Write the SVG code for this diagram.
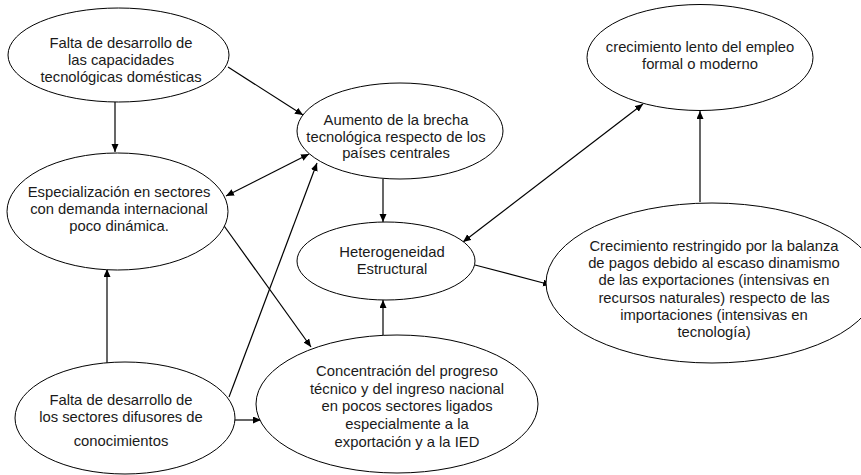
<svg xmlns="http://www.w3.org/2000/svg" width="861" height="475" viewBox="0 0 861 475">
<style>
.n ellipse{fill:#fff;stroke:#000;stroke-width:1}
.n text{font-family:"Liberation Sans",Arial,sans-serif;font-size:14.8px;fill:#1a1a1a;text-anchor:middle}
.c line{stroke:#000;stroke-width:1.2;fill:none}
</style>
<defs>
<marker id="ah" markerUnits="userSpaceOnUse" markerWidth="9" markerHeight="8" refX="8" refY="3.5" orient="auto-start-reverse" viewBox="0 0 9 8">
<path d="M0,0 L8,3.5 L0,7 z" fill="#000"/>
</marker>
</defs>
<rect width="861" height="475" fill="#fff"/>
<g class="c" id="connectors">
<line x1="115" y1="102" x2="115" y2="152" marker-end="url(#ah)"/>
<line x1="228" y1="67" x2="303" y2="115" marker-end="url(#ah)"/>
<line x1="226" y1="196" x2="309" y2="154" marker-start="url(#ah)" marker-end="url(#ah)"/>
<line x1="229" y1="397" x2="317" y2="163" marker-end="url(#ah)"/>
<line x1="222" y1="223" x2="311" y2="347" marker-end="url(#ah)"/>
<line x1="235" y1="420" x2="261" y2="420" marker-end="url(#ah)"/>
<line x1="383" y1="179" x2="383" y2="222" marker-end="url(#ah)"/>
<line x1="383" y1="335" x2="383" y2="300" marker-end="url(#ah)"/>
<line x1="463" y1="242" x2="643" y2="104" marker-start="url(#ah)" marker-end="url(#ah)"/>
<line x1="475" y1="265" x2="551" y2="285" marker-end="url(#ah)"/>
<line x1="700" y1="202" x2="700" y2="111" marker-end="url(#ah)"/>
<line x1="107" y1="363" x2="107" y2="269" marker-end="url(#ah)"/>
</g>
<g class="n" id="n1">
<ellipse cx="118.5" cy="55" rx="110.5" ry="47"/>
<text x="121" y="48">Falta de desarrollo de</text>
<text x="121" y="65">las capacidades</text>
<text x="121" y="82">tecnológicas domésticas</text>
</g>
<g class="n" id="n2">
<ellipse cx="400" cy="131" rx="103" ry="48"/>
<text x="396" y="125">Aumento de la brecha</text>
<text x="396" y="141.7">tecnológica respecto de los</text>
<text x="396" y="158">países centrales</text>
</g>
<g class="n" id="n3">
<ellipse cx="700" cy="57.5" rx="113" ry="53"/>
<text x="700" y="52">crecimiento lento del empleo</text>
<text x="700" y="69">formal o moderno</text>
</g>
<g class="n" id="n4">
<ellipse cx="117.5" cy="211.5" rx="110.5" ry="58.5"/>
<text x="119" y="197">Especialización en sectores</text>
<text x="119" y="214">con demanda internacional</text>
<text x="119" y="231">poco dinámica.</text>
</g>
<g class="n" id="n5">
<ellipse cx="386" cy="261" rx="89" ry="39"/>
<text x="392" y="257">Heterogeneidad</text>
<text x="392" y="274">Estructural</text>
</g>
<g class="n" id="n6">
<ellipse cx="712" cy="283" rx="166" ry="80"/>
<text x="714" y="251">Crecimiento restringido por la balanza</text>
<text x="714" y="268.2">de pagos debido al escaso dinamismo</text>
<text x="714" y="285.4">de las exportaciones (intensivas en</text>
<text x="714" y="302.6">recursos naturales) respecto de las</text>
<text x="714" y="319.8">importaciones (intensivas en</text>
<text x="714" y="337">tecnología)</text>
</g>
<g class="n" id="n7">
<ellipse cx="125" cy="418" rx="110" ry="56"/>
<text x="121" y="405">Falta de desarrollo de</text>
<text x="121" y="421.7">los sectores difusores de</text>
<text x="121" y="446">conocimientos</text>
</g>
<g class="n" id="n8">
<ellipse cx="397" cy="404" rx="141" ry="69"/>
<text x="407" y="376">Concentración del progreso</text>
<text x="407" y="393.7">técnico y del ingreso nacional</text>
<text x="407" y="411.3">en pocos sectores ligados</text>
<text x="407" y="429">especialmente a la</text>
<text x="407" y="446.7">exportación y a la IED</text>
</g>
</svg>
